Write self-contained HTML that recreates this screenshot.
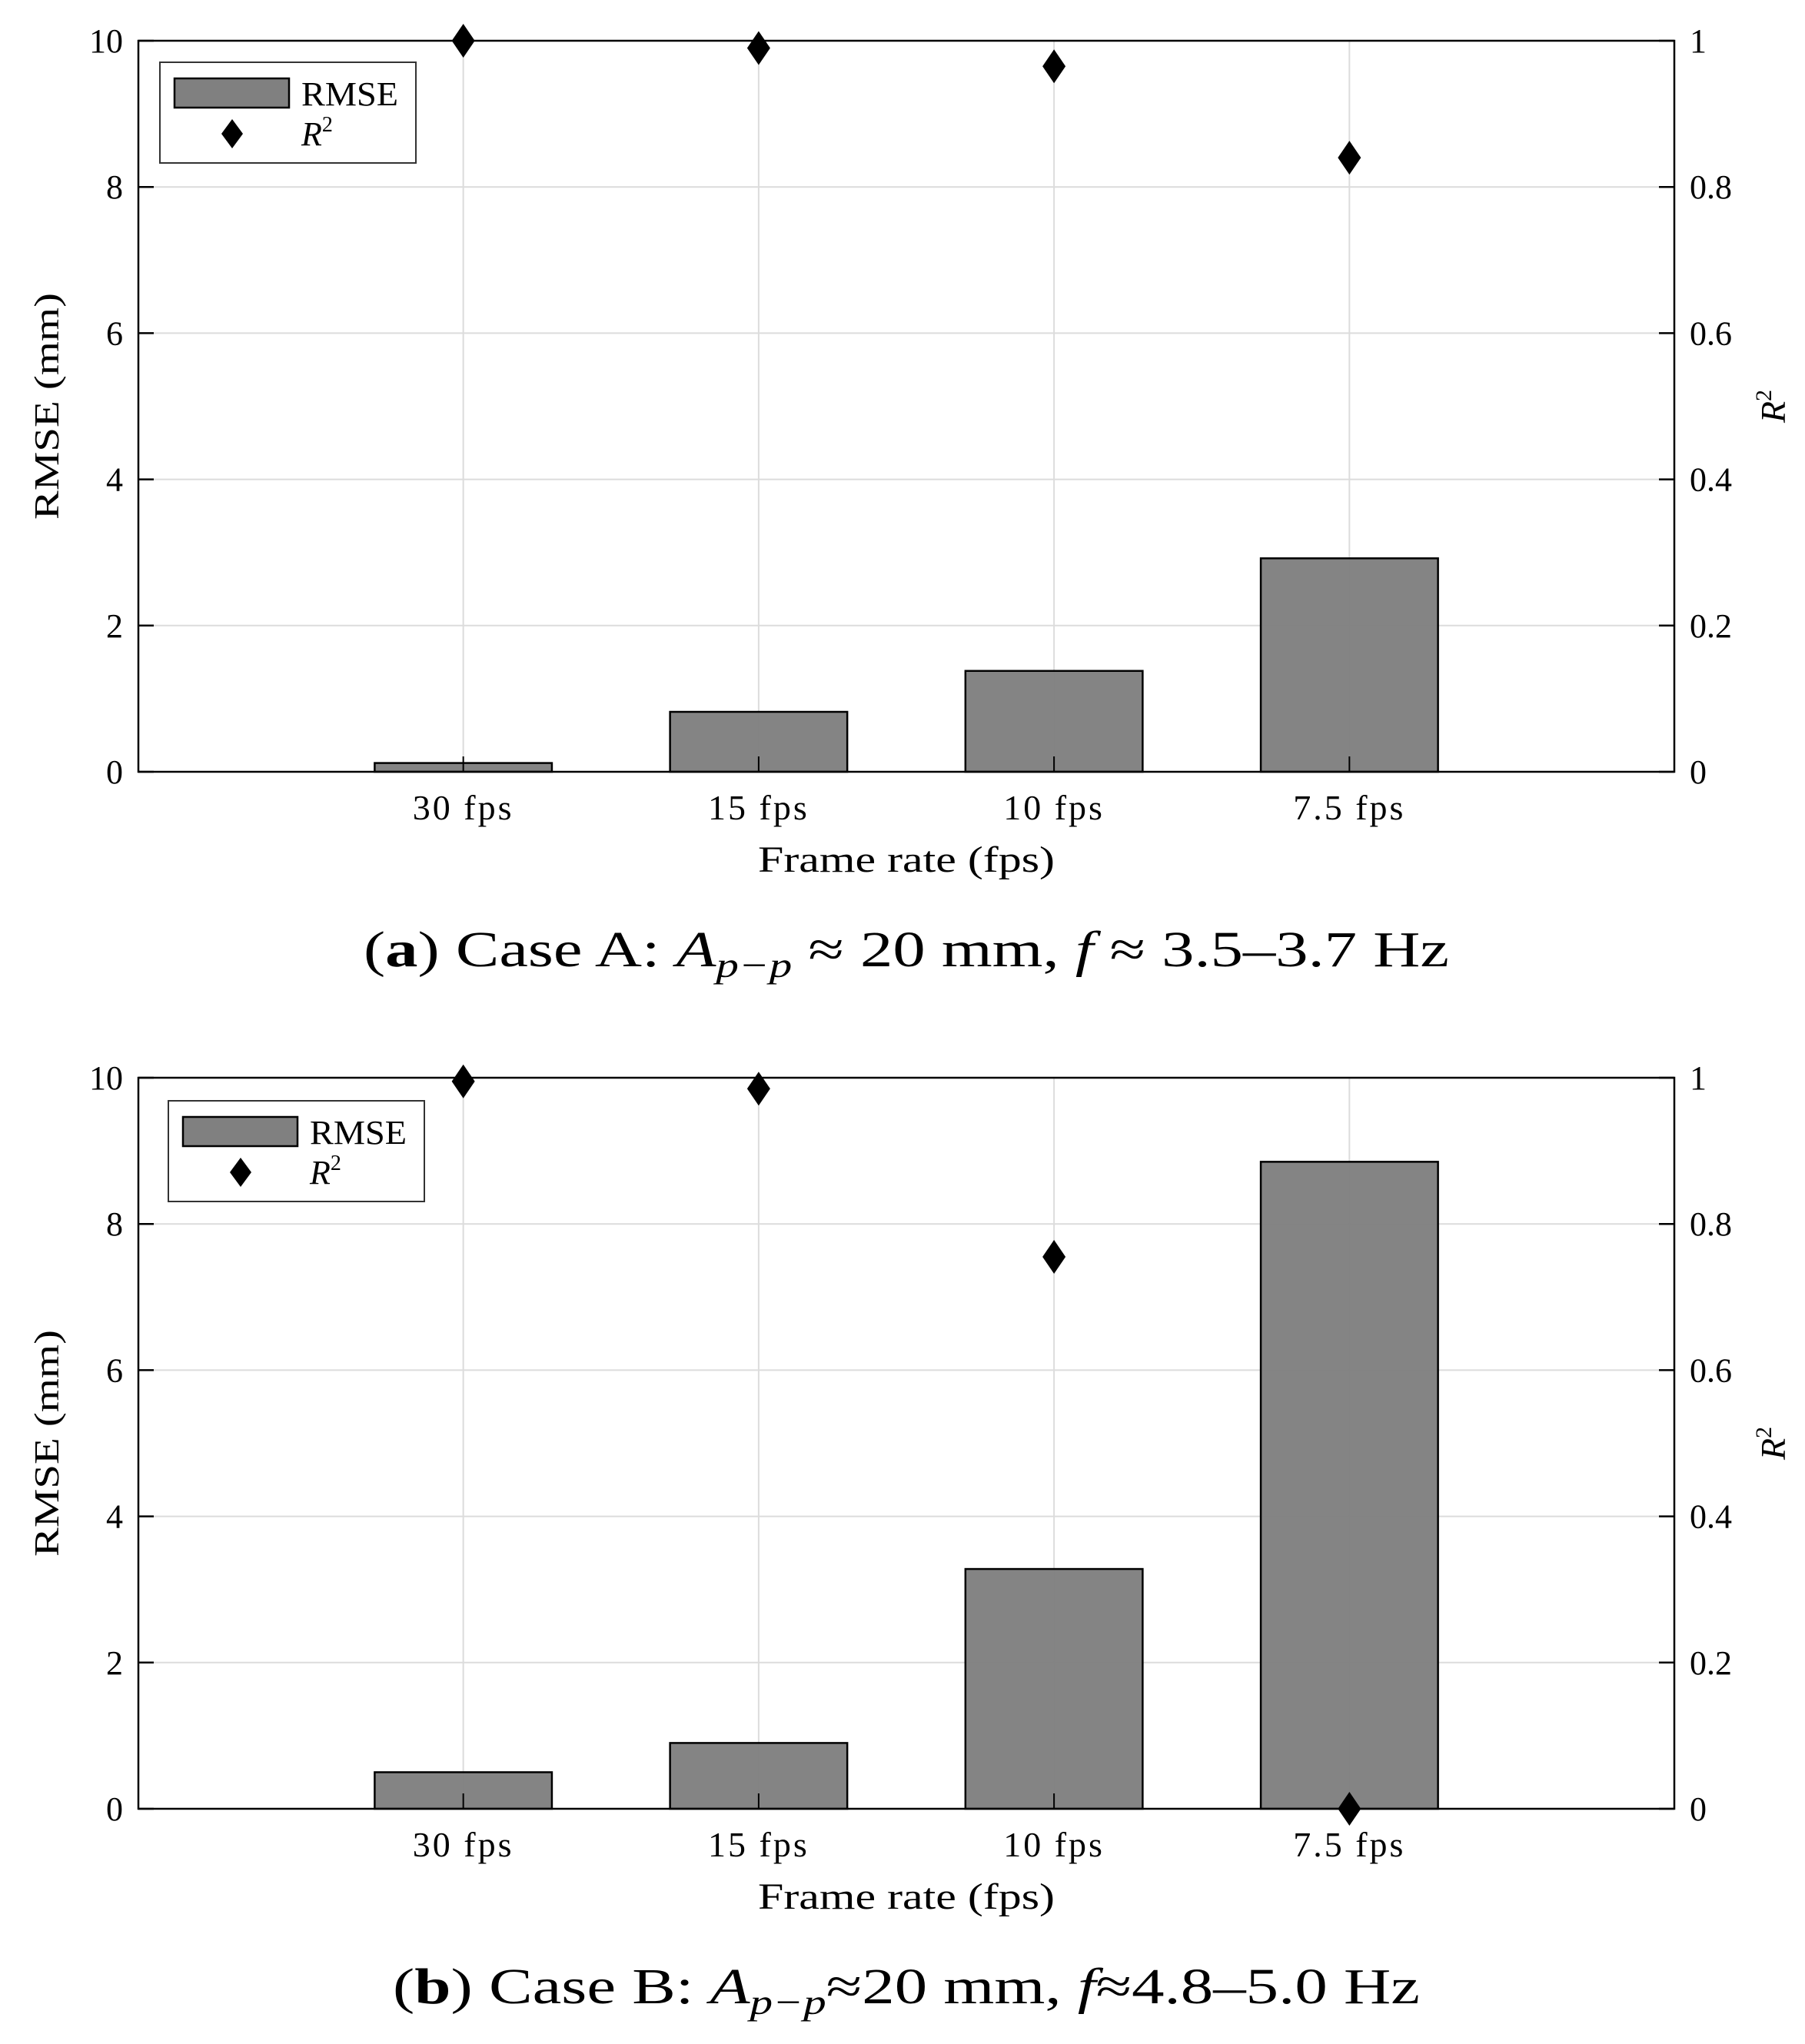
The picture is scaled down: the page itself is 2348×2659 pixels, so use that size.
<!DOCTYPE html>
<html><head><meta charset="utf-8"><style>
html,body{margin:0;padding:0;background:#fff;}
svg{display:block;font-family:"Liberation Serif",serif;}
</style></head><body>
<svg id="fig" width="2348" height="2659" viewBox="0 0 2348 2659" xmlns="http://www.w3.org/2000/svg"></svg>
<script>
const categories = ["30 fps","15 fps","10 fps","7.5 fps"];
const rmseA = [0.12, 0.82, 1.38, 2.92];
const r2A = [1.0, 0.99, 0.965, 0.84];
const rmseB = [0.5, 0.9, 3.28, 8.85];
const r2B = [0.995, 0.985, 0.755, 0.0];
const leftTicks = [0,2,4,6,8,10];
const rightTickLabels = ["0","0.2","0.4","0.6","0.8","1"];
const rightTicks = [0,0.2,0.4,0.6,0.8,1];

const NS="http://www.w3.org/2000/svg";
const svg=document.getElementById('fig');
function mk(tag,attrs,parent,text){const e=document.createElementNS(NS,tag);for(const k in attrs)e.setAttribute(k,attrs[k]);if(text!==undefined)e.textContent=text;(parent||svg).appendChild(e);return e;}

function panel(id,top,legendX,legendY,rmse,r2,tickY,xlabY,capY,capLen,capParts){
  const L=180,R=2178,T=top,B=top+951;
  const g=mk('g',{});
  
  
  const xs=v=>L+(v+0.1)/5.2*(R-L);
  const yl=v=>B-v/10*(B-T);
  const yr=v=>B-v*(B-T);
  leftTicks.forEach(t=>{if(t>0&&t<10){const l=mk('line',{x1:L,x2:R,y1:yl(t),y2:yl(t),stroke:'#dcdcdc','stroke-width':2},g);
    }});
  categories.forEach((c,i)=>{const l=mk('line',{x1:xs(i+1),x2:xs(i+1),y1:T,y2:B,stroke:'#dcdcdc','stroke-width':2},g);
    });
  rmse.forEach((v,i)=>{const bw=0.6/5.2*(R-L);
    const r=mk('rect',{x:xs(i+1)-bw/2,y:yl(v),width:bw,height:B-yl(v),fill:'#808080','fill-opacity':0.97,stroke:'#000','stroke-width':2.5},g);
    });
  const ax=mk('rect',{x:L,y:T,width:R-L,height:B-T,fill:'none',stroke:'#000','stroke-width':2.5},g);
  
  leftTicks.forEach(t=>{mk('line',{x1:L,x2:L+20,y1:yl(t),y2:yl(t),stroke:'#000','stroke-width':2.5},g);
    const tx=mk('text',{x:L-20,y:yl(t)+15,'font-size':44,'text-anchor':'end'},g,String(t));
    });
  rightTicks.forEach((t,i)=>{mk('line',{x1:R-20,x2:R,y1:yr(t),y2:yr(t),stroke:'#000','stroke-width':2.5},g);
    const tx=mk('text',{x:R+20,y:yr(t)+15,'font-size':44},g,rightTickLabels[i]);
    });
  categories.forEach((c,i)=>{mk('line',{x1:xs(i+1),x2:xs(i+1),y1:B,y2:B-20,stroke:'#000','stroke-width':2},g);
    const tx=mk('text',{x:xs(i+1),y:tickY,'font-size':46,'text-anchor':'middle','letter-spacing':3},g,c);
    });
  r2.forEach((v,i)=>{const cx=xs(i+1),cy=yr(v);
    const p=mk('polygon',{points:`${cx},${cy-22} ${cx+15},${cy} ${cx},${cy+22} ${cx-15},${cy}`,fill:'#000'},g);
    });
  const yt=mk('text',{x:0,y:0,'font-size':46,'text-anchor':'middle',textLength:295,lengthAdjust:'spacingAndGlyphs',transform:`translate(76,${(T+B)/2}) rotate(-90)`},g,'RMSE (mm)');
  
  const yt2=mk('text',{x:0,y:0,'font-size':46,'text-anchor':'middle','font-style':'italic',transform:`translate(2322,${(T+B)/2}) rotate(-90)`},g);
  
  yt2.innerHTML='R<tspan font-size="30" font-style="normal" dy="-18">2</tspan>';
  const xt=mk('text',{x:(L+R)/2,y:xlabY,'font-size':48,'text-anchor':'middle',textLength:386,lengthAdjust:'spacingAndGlyphs'},g,'Frame rate (fps)');
  
  const lg=mk('g',{},g);
  mk('rect',{x:legendX,y:legendY,width:333,height:131,fill:'#fff',stroke:'#333','stroke-width':2},lg);
  const le1=mk('rect',{x:legendX+19,y:legendY+21,width:149,height:38,fill:'#808080',stroke:'#000','stroke-width':2.5},lg);
  
  mk('text',{x:legendX+184,y:legendY+56,'font-size':44,textLength:126,lengthAdjust:'spacingAndGlyphs'},lg,'RMSE');
  const cx=legendX+94,cy=legendY+93;
  const le2=mk('polygon',{points:`${cx},${cy-19} ${cx+14},${cy} ${cx},${cy+19} ${cx-14},${cy}`,fill:'#000'},lg);
  
  const lt=mk('text',{x:legendX+184,y:legendY+108,'font-size':44,'font-style':'italic'},lg);
  lt.innerHTML='R<tspan font-size="28" font-style="normal" dy="-18">2</tspan>';
  const cap=mk('text',{x:(L+R)/2,y:capY,'font-size':66,'text-anchor':'middle',textLength:capLen,lengthAdjust:'spacingAndGlyphs'},svg);
  
  cap.innerHTML=capParts;
}
panel('a',53,208,81,rmseA,r2A,1066,1134,1257,1412,
 '(<tspan font-weight="bold">a</tspan>) Case A: <tspan font-style="italic">A</tspan><tspan font-style="italic" font-size="46" dy="14">p−p</tspan><tspan dy="-14"> ≈ 20 mm, </tspan><tspan font-style="italic">f</tspan> ≈ 3.5–3.7 Hz');
panel('b',1402,219,1432,rmseB,r2B,2415,2483,2606,1336,
 '(<tspan font-weight="bold">b</tspan>) Case B: <tspan font-style="italic">A</tspan><tspan font-style="italic" font-size="46" dy="14">p−p</tspan><tspan dy="-14">≈20 mm, </tspan><tspan font-style="italic">f</tspan>≈4.8–5.0 Hz');
</script>
</body></html>
